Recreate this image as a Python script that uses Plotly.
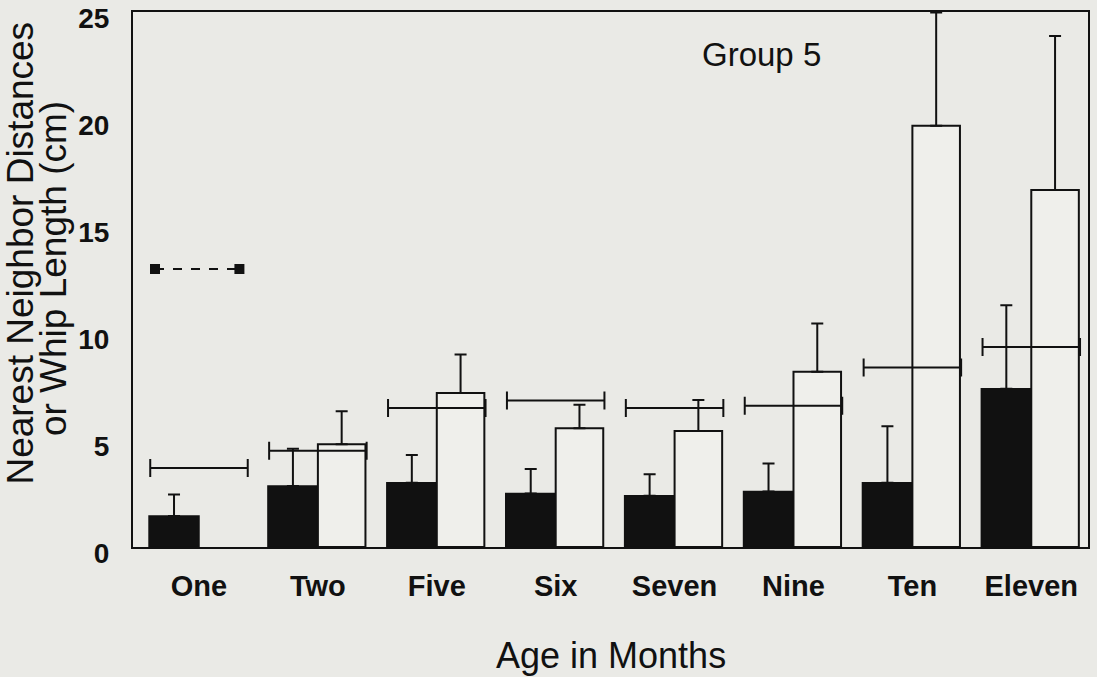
import plotly.graph_objects as go

months = ["One", "Two", "Five", "Six", "Seven", "Nine", "Ten", "Eleven"]
pos = list(range(len(months)))

# nearest neighbor distances (black bars) and upper error limits
nn_mean = [1.45, 2.85, 3.0, 2.5, 2.4, 2.6, 3.0, 7.4]
nn_top = [2.45, 4.6, 4.3, 3.65, 3.4, 3.9, 5.65, 11.3]

# second series (white bars) and upper error limits
wh_mean = [None, 4.8, 7.2, 5.55, 5.42, 8.2, 19.7, 16.7]
wh_top = [None, 6.35, 9.0, 6.65, 6.87, 10.45, 25.0, 23.9]

# whip length (horizontal bars)
whip = [3.7, 4.5, 6.5, 6.85, 6.5, 6.6, 8.4, 9.35]
whip_halfspan = [0.41] * 8

# dashed reference with square markers
ref_x = [-0.37, 0.34]
ref_y = [13.0, 13.0]

yticks = [0, 5, 10, 15, 20, 25]

nn_err = [t - m for t, m in zip(nn_top, nn_mean)]
wh_err = [(t - m) if m is not None else None for t, m in zip(wh_top, wh_mean)]

BG = "#eaeae6"
INK = "#111111"
FONT = "Liberation Sans, Arial, sans-serif"

fig = go.Figure()
fig.add_trace(go.Bar(
    x=pos, y=nn_mean, offset=-0.42, width=0.42,
    marker=dict(color=INK, line=dict(color=INK, width=1.5)),
    error_y=dict(type="data", array=nn_err, arrayminus=[0] * 8, symmetric=False,
                 color=INK, thickness=2, width=6),
    showlegend=False,
))
fig.add_trace(go.Bar(
    x=pos, y=wh_mean, offset=0.0, width=0.40,
    marker=dict(color="#efefeb", line=dict(color=INK, width=2)),
    error_y=dict(type="data", array=wh_err, arrayminus=[0] * 8, symmetric=False,
                 color=INK, thickness=2, width=6),
    showlegend=False,
))
fig.add_trace(go.Scatter(
    x=pos, y=whip, mode="markers",
    marker=dict(size=1, color="rgba(0,0,0,0)"),
    error_x=dict(type="data", array=whip_halfspan, color=INK, thickness=2, width=9),
    showlegend=False,
))
fig.add_trace(go.Scatter(
    x=ref_x, y=ref_y, mode="lines+markers",
    line=dict(color=INK, width=2, dash="dash"),
    marker=dict(symbol="square", size=10, color=INK),
    showlegend=False,
))

fig.update_layout(
    width=1097, height=677,
    margin=dict(l=133, r=9, t=12, b=130),
    paper_bgcolor=BG, plot_bgcolor=BG,
    barmode="overlay",
    font=dict(family=FONT, color=INK),
    xaxis=dict(
        range=[-0.555, 7.477], tickmode="array", tickvals=pos, ticktext=months,
        showgrid=False, zeroline=False, showline=True, linecolor=INK, linewidth=2,
        mirror=True, ticks="", ticklabelstandoff=12, automargin=False,
        tickfont=dict(size=29, family=FONT, weight="bold"),
    ),
    yaxis=dict(
        range=[0, 25.02], tickmode="array", tickvals=yticks,
        showgrid=False, zeroline=False, showline=True, linecolor=INK, linewidth=2,
        mirror=True, ticks="", ticklabelstandoff=16, ticklabeloverflow="allow",
        ticklabelshift=6, automargin=False,
        tickfont=dict(size=28, family=FONT, weight="bold"),
    ),
    annotations=[
        dict(text="Age in Months", xref="paper", yref="paper", x=0.5, y=-0.160,
             xanchor="center", yanchor="top", showarrow=False,
             font=dict(size=36)),
        dict(text="Nearest Neighbor Distances", xref="paper", yref="paper",
             x=-0.141, y=0.55, xanchor="left", yanchor="middle", textangle=-90,
             showarrow=False, font=dict(size=37)),
        dict(text="or Whip Length (cm)", xref="paper", yref="paper",
             x=-0.106, y=0.52, xanchor="left", yanchor="middle", textangle=-90,
             showarrow=False, font=dict(size=37)),
        dict(text="Group 5", xref="paper", yref="paper", x=0.658, y=0.92,
             xanchor="center", yanchor="middle", showarrow=False,
             font=dict(size=33)),
    ],
)

fig.write_html("out.html", config={"displayModeBar": False},
               post_script="document.body.style.margin='0px';")
